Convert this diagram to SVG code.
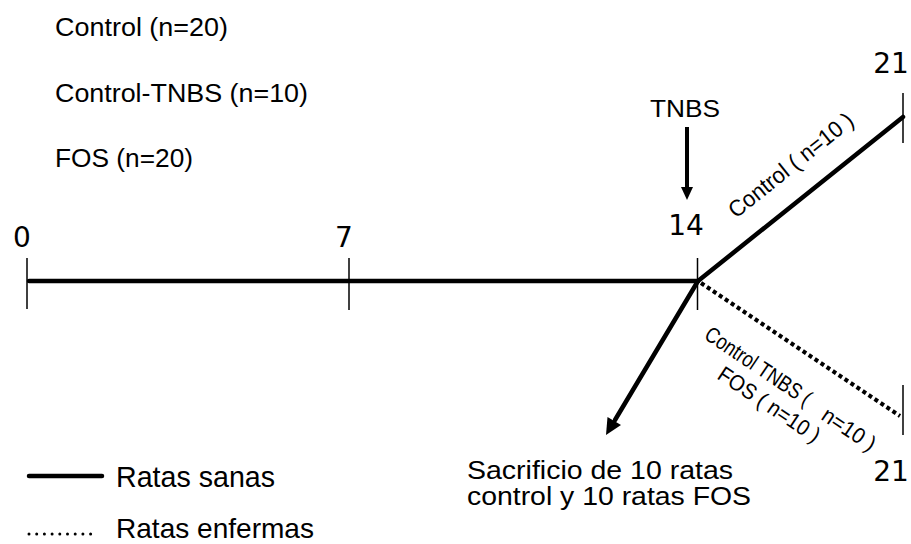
<svg xmlns="http://www.w3.org/2000/svg" width="911" height="544" viewBox="0 0 911 544">
  <style>
    .t { font-family: "Liberation Sans", Arial, sans-serif; fill: #000; }
    .num { font-family: "DejaVu Sans", sans-serif; font-size: 28px; fill: #000; text-anchor: middle; }
    .tick { stroke: #000; stroke-width: 1.5; }
    .solid { stroke: #000; stroke-width: 4.5; fill: none; stroke-linecap: round; }
    .dotted { stroke: #000; stroke-width: 4; fill: none; stroke-dasharray: 4 3.2; }
    .head { fill: #000; }
  </style>

  <!-- experimental groups -->
  <g id="groups">
    <text class="t" x="55" y="36" font-size="26" textLength="173" lengthAdjust="spacingAndGlyphs">Control (n=20)</text>
    <text class="t" x="55" y="102" font-size="26" textLength="253" lengthAdjust="spacingAndGlyphs">Control-TNBS (n=10)</text>
    <text class="t" x="55" y="167" font-size="26" textLength="138" lengthAdjust="spacingAndGlyphs">FOS (n=20)</text>
  </g>

  <!-- day markers -->
  <g id="day0">
    <line class="tick" x1="27" y1="258" x2="27" y2="309"/>
    <text class="num" x="22" y="247">0</text>
  </g>
  <g id="day7">
    <line class="tick" x1="349" y1="258" x2="349" y2="310"/>
    <text class="num" x="344" y="247">7</text>
  </g>
  <g id="day14">
    <line class="tick" x1="697.5" y1="258" x2="697.5" y2="310"/>
    <text class="num" x="686" y="235">14</text>
  </g>
  <g id="day21-control">
    <line class="tick" x1="903" y1="93" x2="903" y2="143"/>
    <text class="num" x="891" y="73">21</text>
  </g>
  <g id="day21-tnbs">
    <line class="tick" x1="903" y1="385" x2="903" y2="435"/>
    <text class="num" x="891" y="481">21</text>
  </g>

  <!-- TNBS administration -->
  <g id="tnbs">
    <text class="t" x="650" y="117" font-size="24" textLength="70" lengthAdjust="spacingAndGlyphs">TNBS</text>
  </g>

  <!-- sacrifice note -->
  <g id="sacrificio">
    <text class="t" x="467" y="479" font-size="25" textLength="266" lengthAdjust="spacingAndGlyphs">Sacrificio de 10 ratas</text>
    <text class="t" x="467" y="505" font-size="25" textLength="284" lengthAdjust="spacingAndGlyphs">control y 10 ratas FOS</text>
  </g>

  <!-- branch labels -->
  <g id="branch-control">
    <text class="t" font-size="23" transform="translate(736,219) rotate(-38.7)" textLength="153" lengthAdjust="spacingAndGlyphs">Control ( n=10 )</text>
  </g>
  <g id="branch-tnbs">
    <g transform="translate(703,338) rotate(33.8)">
      <text class="t" font-size="22" x="0" y="0" textLength="123" lengthAdjust="spacingAndGlyphs">Control TNBS (</text>
      <text class="t" font-size="22" x="142" y="2" textLength="60" lengthAdjust="spacingAndGlyphs">n=10 )</text>
      <text class="t" font-size="22" x="33" y="26" textLength="118" lengthAdjust="spacingAndGlyphs">FOS ( n=10 )</text>
    </g>
  </g>

  <!-- timeline and branches -->
  <g id="connectors">
    <line class="solid" x1="29" y1="281" x2="698" y2="281"/>
    <line class="solid" x1="698" y1="281" x2="903" y2="117"/>
    <line class="dotted" x1="701" y1="283" x2="900" y2="416"/>
    <!-- sacrifice arrow -->
    <line class="solid" x1="698" y1="281" x2="615" y2="420" stroke-linecap="butt" stroke-width="5.5"/>
    <polygon class="head" points="606,435 607.5,417 621,425"/>
    <!-- TNBS arrow -->
    <line stroke="#000" stroke-width="4" x1="687" y1="127" x2="687" y2="189"/>
    <polygon class="head" points="681,187 693,187 687,200"/>
  </g>

  <!-- legend -->
  <g id="legend">
    <line class="solid" x1="29" y1="476" x2="102" y2="476" stroke-width="4"/>
    <text class="t" x="116" y="487" font-size="29" textLength="159" lengthAdjust="spacingAndGlyphs">Ratas sanas</text>
    <line x1="29" y1="534" x2="98" y2="534" stroke="#000" stroke-width="3" stroke-linecap="round" stroke-dasharray="0 7.7"/>
    <text class="t" x="116" y="538" font-size="28" textLength="198" lengthAdjust="spacingAndGlyphs">Ratas enfermas</text>
  </g>
</svg>
